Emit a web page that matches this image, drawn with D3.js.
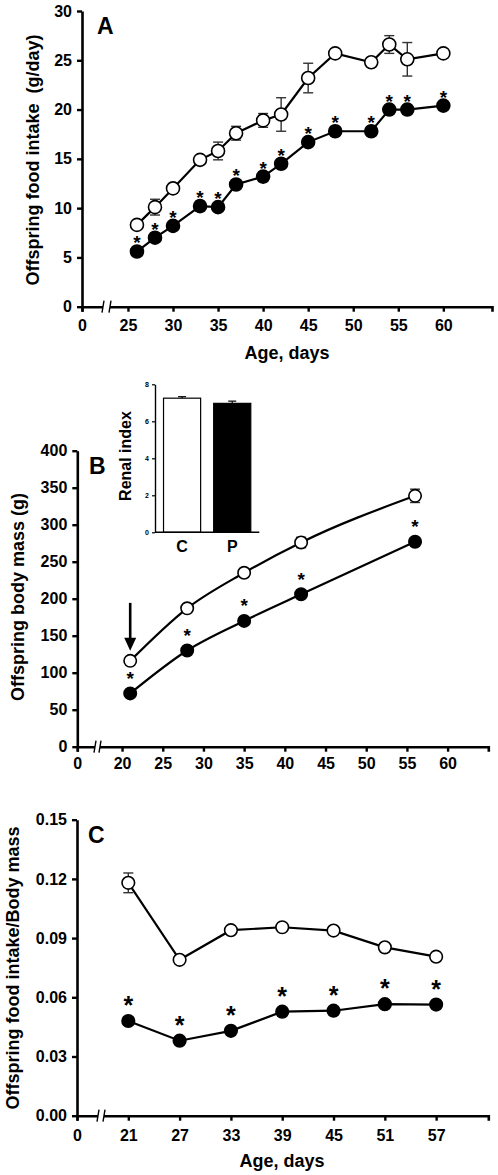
<!DOCTYPE html>
<html>
<head>
<meta charset="utf-8">
<script src="https://cdn.jsdelivr.net/npm/d3@7"></script>
<style>
  html, body { margin: 0; padding: 0; background: #fff; }
  svg { display: block; font-family: "Liberation Sans", Arial, sans-serif; font-weight: bold; }
</style>
</head>
<body>
<svg id="chart" width="498" height="1175"></svg>
<script>
// ---------- Panel A: food intake ----------
const daysA = [26, 28, 30, 33, 35, 37, 40, 42, 45, 48, 52, 54, 56, 60];
const intakeCtrl = [8.3, 10.1, 12.0, 14.9, 15.8, 17.6, 18.9, 19.5, 23.2, 25.7, 24.8, 26.6, 25.1, 25.7];
const intakeCtrlErr = [0.2, 0.8, 0.5, 0.2, 0.9, 0.7, 0.7, 1.7, 1.5, 0.2, 0.3, 0.9, 1.7, 0.2];
const intakeProt = [5.6, 7.0, 8.2, 10.2, 10.1, 12.4, 13.2, 14.5, 16.7, 17.8, 17.8, 20.0, 20.0, 20.4];
const intakeProtErr = [0.2, 0.3, 0.2, 0.5, 0.4, 0.2, 0.5, 0.2, 0.2, 0.2, 0.2, 0.2, 0.2, 0.2];
const xTicksA = [25, 30, 35, 40, 45, 50, 55, 60];
const yTicksA = [0, 5, 10, 15, 20, 25, 30];

// ---------- Panel B: body mass ----------
const daysB = [21, 28, 35, 42, 56];
const massCtrl = [116, 187, 235, 276, 339];
const massCtrlErr = [3, 3, 3, 7, 9];
const massProt = [72, 130, 170, 206, 277];
const massProtErr = [2, 2, 2, 3, 3];
const xTicksB = [20, 25, 30, 35, 40, 45, 50, 55, 60];
const yTicksB = [0, 50, 100, 150, 200, 250, 300, 350, 400];

// ---------- Panel B inset: renal index ----------
const insetGroups = ["C", "P"];
const renalIndex = [7.25, 6.97];
const renalIndexErr = [0.08, 0.12];
const yTicksInset = [0, 2, 4, 6, 8];

// ---------- Panel C: intake / body mass ----------
const daysC = [21, 27, 33, 39, 45, 51, 57];
const ratioCtrl = [0.118, 0.079, 0.094, 0.0955, 0.0938, 0.0853, 0.0806];
const ratioCtrlErr = [0.005, 0.001, 0.001, 0.001, 0.001, 0.001, 0.001];
const ratioProt = [0.048, 0.038, 0.043, 0.0527, 0.0532, 0.0565, 0.0563];
const ratioProtErr = [0.001, 0.001, 0.001, 0.001, 0.001, 0.001, 0.002];
const xTicksC = [21, 27, 33, 39, 45, 51, 57];
const yTicksC = [0, 0.03, 0.06, 0.09, 0.12, 0.15];

const originLabel = "0";
const ageTitle = "Age, days";

const svg = d3.select("#chart");

function panel(cfg) {
  const g = svg.append("g");
  const x = d3.scaleLinear().domain(cfg.xDomain).range(cfg.xRange);
  const y = d3.scaleLinear().domain(cfg.yDomain).range(cfg.yRange);
  const y0 = cfg.yRange[0];

  const xa = g.append("g").attr("transform", `translate(0,${y0})`)
    .call(d3.axisBottom(x).tickValues([cfg.xDomain[0]].concat(cfg.xTicks))
      .tickFormat(d => d === cfg.xDomain[0] ? originLabel : d)
      .tickSize(5).tickSizeOuter(5).tickPadding(cfg.xPad));
  const ya = g.append("g").attr("transform", `translate(${cfg.xRange[0]},0)`)
    .call(d3.axisLeft(y).tickValues(cfg.yTicks).tickFormat(cfg.yFormat)
      .tickSize(5).tickSizeOuter(0).tickPadding(5));
  [xa, ya].forEach(a => {
    a.select(".domain").attr("stroke", "#000").attr("stroke-width", 2.6);
    a.selectAll(".tick line").attr("stroke", "#000").attr("stroke-width", 2.4);
    a.selectAll(".tick text").attr("fill", "#000").style("font-size", "16px").style("font-family", "Liberation Sans, Arial, sans-serif").style("font-weight", "bold");
  });

  const b0 = cfg.breakX, b1 = cfg.breakX + cfg.breakGap;
  g.append("rect").attr("x", b0).attr("y", y0 - 3).attr("width", b1 - b0).attr("height", 6).attr("fill", "#fff");
  [b0, b1].forEach(bx => {
    g.append("line").attr("x1", bx - 1).attr("x2", bx + 1).attr("y1", y0 + 6).attr("y2", y0 - 6)
      .attr("stroke", "#000").attr("stroke-width", 1.4);
  });

  if (cfg.xTitle) {
    g.append("text").attr("x", cfg.xTitleX).attr("y", cfg.xTitleY).attr("text-anchor", "middle")
      .style("font-size", "18px").text(cfg.xTitle);
  }
  g.append("text").attr("transform", `translate(${cfg.yTitleX},${cfg.yTitleY}) rotate(-90)`)
    .attr("text-anchor", "middle").attr("dy", "0.35em").style("font-size", "18px")
    .style("white-space", "pre").attr("xml:space", "preserve").text(cfg.yTitle);
  g.append("text").attr("x", cfg.letterX).attr("y", cfg.letterY).style("font-size", "23px").text(cfg.letter);

  const line = d3.line().x(d => x(d[0])).y(d => y(d[1])).curve(cfg.curve || d3.curveLinear);
  const series = [
    { vals: cfg.ctrl, err: cfg.ctrlErr, fill: "#fff" },
    { vals: cfg.prot, err: cfg.protErr, fill: "#000" }
  ];
  series.forEach(s => {
    const pts = cfg.days.map((d, i) => [d, s.vals[i]]);
    g.append("path").datum(pts).attr("d", line).attr("fill", "none").attr("stroke", "#000").attr("stroke-width", 2.2);
  });
  series.forEach(s => {
    const eb = g.append("g").attr("stroke", "#333").attr("stroke-width", 1.4);
    cfg.days.forEach((d, i) => {
      const cx = x(d), hi = y(s.vals[i] + s.err[i]), lo = y(s.vals[i] - s.err[i]);
      eb.append("line").attr("x1", cx).attr("x2", cx).attr("y1", hi).attr("y2", lo);
      eb.append("line").attr("x1", cx - 5).attr("x2", cx + 5).attr("y1", hi).attr("y2", hi);
      eb.append("line").attr("x1", cx - 5).attr("x2", cx + 5).attr("y1", lo).attr("y2", lo);
    });
  });
  series.forEach(s => {
    g.append("g").selectAll("circle").data(cfg.days.map((d, i) => [d, s.vals[i]])).join("circle")
      .attr("cx", d => x(d[0])).attr("cy", d => y(d[1])).attr("r", cfg.r)
      .attr("fill", s.fill).attr("stroke", "#000").attr("stroke-width", 1.6);
  });
  g.append("g").selectAll("text").data(cfg.days.map((d, i) => [d, cfg.prot[i]])).join("text")
    .attr("x", d => x(d[0])).attr("y", d => y(d[1]) - cfg.starOff + cfg.starSize * 0.55)
    .attr("text-anchor", "middle").style("font-size", cfg.starSize + "px").text("*");
  return { g, x, y };
}

// Panel A
panel({
  xDomain: [19.9, 65.4], xRange: [82, 492], yDomain: [0, 30], yRange: [306.7, 11],
  xTicks: xTicksA, yTicks: yTicksA, yFormat: d3.format("d"), xPad: 8,
  breakX: 103, breakGap: 7,
  xTitle: ageTitle, xTitleX: 287, xTitleY: 359, yTitle: "Offspring food intake  (g/day)", yTitleX: 33, yTitleY: 160,
  letter: "A", letterX: 97, letterY: 34,
  days: daysA, ctrl: intakeCtrl, ctrlErr: intakeCtrlErr, prot: intakeProt, protErr: intakeProtErr,
  r: 6.5, starOff: 12.5, starSize: 19
});

// Panel B
const pB = panel({
  xDomain: [14.5, 65], xRange: [77.3, 488.3], yDomain: [0, 400], yRange: [746.7, 450.7],
  xTicks: xTicksB, yTicks: yTicksB, yFormat: d3.format("d"), xPad: 6,
  breakX: 95, breakGap: 5,
  xTitle: null, yTitle: "Offspring body mass (g)", yTitleX: 18, yTitleY: 597,
  letter: "B", letterX: 89, letterY: 474,
  days: daysB, ctrl: massCtrl, ctrlErr: massCtrlErr, prot: massProt, protErr: massProtErr,
  r: 6.2, starOff: 19, starSize: 19, curve: d3.curveMonotoneX
});
{
  const ax = pB.x(daysB[0]), tip = pB.y(massCtrl[0]) - 10;
  pB.g.append("line").attr("x1", ax).attr("x2", ax).attr("y1", tip - 48).attr("y2", tip - 10)
    .attr("stroke", "#000").attr("stroke-width", 2.6);
  pB.g.append("path").attr("d", `M${ax - 6},${tip - 13} L${ax + 6},${tip - 13} L${ax},${tip} Z`).attr("fill", "#000");
}

// Inset
{
  const g = svg.append("g");
  const xi = d3.scaleBand().domain(insetGroups).range([155, 259.3]).paddingInner(0.26).paddingOuter(0.17);
  const yi = d3.scaleLinear().domain([0, 8]).range([532.3, 384.3]);
  g.selectAll("rect").data(insetGroups).join("rect")
    .attr("x", d => xi(d)).attr("width", xi.bandwidth())
    .attr("y", (d, i) => yi(renalIndex[i])).attr("height", (d, i) => yi(0) - yi(renalIndex[i]))
    .attr("fill", (d, i) => i === 0 ? "#fff" : "#000").attr("stroke", "#000").attr("stroke-width", 1.2);
  insetGroups.forEach((d, i) => {
    const cx = xi(d) + xi.bandwidth() / 2, hi = yi(renalIndex[i] + renalIndexErr[i]), top = yi(renalIndex[i]);
    g.append("line").attr("x1", cx).attr("x2", cx).attr("y1", hi).attr("y2", top).attr("stroke", "#000").attr("stroke-width", 1.2);
    g.append("line").attr("x1", cx - 4).attr("x2", cx + 4).attr("y1", hi).attr("y2", hi).attr("stroke", "#000").attr("stroke-width", 1.2);
  });
  const ya = g.append("g").attr("transform", "translate(155,0)")
    .call(d3.axisLeft(yi).tickValues(yTicksInset).tickSize(3).tickSizeOuter(0).tickPadding(3));
  ya.select(".domain").attr("stroke", "#000").attr("stroke-width", 1.4);
  ya.selectAll(".tick line").attr("stroke", "#000").attr("stroke-width", 1.2);
  ya.selectAll(".tick text").attr("fill", "#000").style("font-size", "7px").style("font-weight", "bold").style("font-family", "Liberation Sans, Arial, sans-serif");
  g.append("line").attr("x1", 155).attr("x2", 259.3).attr("y1", yi(0)).attr("y2", yi(0)).attr("stroke", "#000").attr("stroke-width", 1.4);
  g.selectAll("text.cat").data(insetGroups).join("text").attr("class", "cat")
    .attr("x", d => xi(d) + xi.bandwidth() / 2).attr("y", 552).attr("text-anchor", "middle")
    .style("font-size", "16px").text(d => d);
  g.append("text").attr("transform", "translate(125,456) rotate(-90)").attr("text-anchor", "middle")
    .attr("dy", "0.35em").style("font-size", "16px").text("Renal index");
}

// Panel C
panel({
  xDomain: [15, 63.1], xRange: [77, 488.3], yDomain: [0, 0.15], yRange: [1115.7, 819.7],
  xTicks: xTicksC, yTicks: yTicksC, yFormat: d3.format(".2f"), xPad: 9,
  breakX: 98, breakGap: 6,
  xTitle: ageTitle, xTitleX: 282, xTitleY: 1167, yTitle: "Offspring food intake/Body mass", yTitleX: 13, yTitleY: 968,
  letter: "C", letterX: 88, letterY: 843,
  days: daysC, ctrl: ratioCtrl, ctrlErr: ratioCtrlErr, prot: ratioProt, protErr: ratioProtErr,
  r: 6.3, starOff: 20.5, starSize: 25
});
</script>
</body>
</html>
